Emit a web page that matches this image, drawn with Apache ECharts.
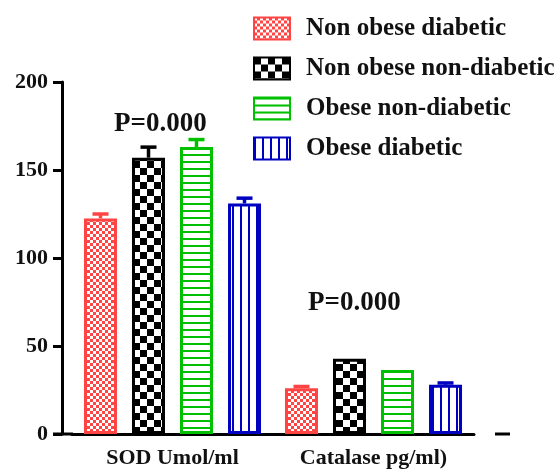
<!DOCTYPE html>
<html>
<head>
<meta charset="utf-8">
<script src="https://cdn.jsdelivr.net/npm/echarts@6/dist/echarts.min.js"></script>
<style>
  html, body { margin: 0; padding: 0; background: #fff; }
  #chart { width: 556px; height: 472px; }
</style>
</head>
<body>
<div id="chart"></div>
<script>
// categories and values
const categories = ['SOD Umol/ml', 'Catalase pg/ml)'];
const groupNames = ['Non obese diabetic', 'Non obese non-diabetic', 'Obese non-diabetic', 'Obese diabetic'];
const nonObeseDiabetic = [122.5, 26];
const nonObeseNonDiabetic = [157, 42.7];
const obeseNonDiabetic = [163, 36.4];
const obeseDiabetic = [131, 28];
// upper error (SEM) per bar
const errNonObeseDiabetic = [2.5, 1];
const errNonObeseNonDiabetic = [6, 0];
const errObeseNonDiabetic = [4.3, 0];
const errObeseDiabetic = [3, 1];
const yTicks = [0, 50, 100, 150, 200];
const pLabels = ['P=0.000', 'P=0.000'];

const FONT = 'Liberation Serif';
const colors = ['#ff4444', '#000000', '#00c000', '#0000c0'];

// fill patterns, like the prism hatches
function makePattern(kind, color) {
  const c = document.createElement('canvas');
  const ctx = c.getContext('2d');
  if (kind === 'fineCheck') {
    c.width = 6; c.height = 6;
    ctx.fillStyle = color; ctx.fillRect(0, 0, 6, 6);
    ctx.fillStyle = '#fff';
    ctx.fillRect(0, 0, 3, 3); ctx.fillRect(3, 3, 3, 3);
  } else if (kind === 'bigCheck') {
    c.width = 14; c.height = 14;
    ctx.fillStyle = '#fff'; ctx.fillRect(0, 0, 14, 14);
    ctx.fillStyle = color;
    ctx.fillRect(0, 0, 7, 7); ctx.fillRect(7, 7, 7, 7);
  } else if (kind === 'hLines') {
    c.width = 8; c.height = 7;
    ctx.fillStyle = '#fff'; ctx.fillRect(0, 0, 8, 7);
    ctx.fillStyle = color; ctx.fillRect(0, 0, 8, 2);
  } else {
    c.width = 8; c.height = 8;
    ctx.fillStyle = '#fff'; ctx.fillRect(0, 0, 8, 8);
    ctx.fillStyle = color; ctx.fillRect(0, 0, 2, 8);
  }
  return { image: c, repeat: 'repeat' };
}
const patterns = [
  makePattern('fineCheck', colors[0]),
  makePattern('bigCheck', colors[1]),
  makePattern('hLines', colors[2]),
  makePattern('vLines', colors[3])
];

const values = [nonObeseDiabetic, nonObeseNonDiabetic, obeseNonDiabetic, obeseDiabetic];
const errors = [errNonObeseDiabetic, errNonObeseNonDiabetic, errObeseNonDiabetic, errObeseDiabetic];

const BAR_W = 33;
const STEP = 48; // bar centre to bar centre

const series = [];
values.forEach((vals, i) => {
  series.push({
    name: groupNames[i],
    type: 'bar',
    barWidth: BAR_W,
    barGap: ((STEP - BAR_W) / BAR_W * 100).toFixed(1) + '%',
    data: vals,
    itemStyle: { color: patterns[i], borderColor: colors[i], borderWidth: 3 },
    z: 3
  });
});
// error bars (upper only)
values.forEach((vals, i) => {
  const offset = (i - 1.5) * STEP;
  series.push({
    name: 'err' + i,
    type: 'custom',
    z: 2,
    data: vals.map((v, k) => [k, v, errors[i][k]]),
    renderItem: function (params, api) {
      const e = api.value(2);
      if (!e) return null;
      const base = api.coord([api.value(0), api.value(1)]);
      const top = api.coord([api.value(0), api.value(1) + e]);
      const x = base[0] + offset;
      const st = { stroke: colors[i], lineWidth: 3.5 };
      return {
        type: 'group',
        children: [
          { type: 'line', shape: { x1: x, y1: base[1], x2: x, y2: top[1] }, style: st },
          { type: 'line', shape: { x1: x - 8, y1: top[1], x2: x + 8, y2: top[1] }, style: st }
        ]
      };
    }
  });
});

const chart = echarts.init(document.getElementById('chart'));
chart.setOption({
  animation: false,
  backgroundColor: '#fff',
  grid: { left: 72, right: 82, top: 82, bottom: 38 },
  legend: {
    data: groupNames,
    orient: 'vertical',
    left: 248,
    top: 11,
    itemWidth: 36,
    itemHeight: 22,
    itemGap: 15,
    icon: 'rect',
    textStyle: {
      fontFamily: FONT, fontWeight: 'bold', fontSize: 25, color: '#111',
      padding: [0, 0, 0, 11], lineHeight: 22
    }
  },
  xAxis: {
    type: 'category',
    data: categories,
    axisLine: { lineStyle: { color: '#000', width: 3 } },
    axisTick: { alignWithLabel: true, length: 10, lineStyle: { color: '#000', width: 3 } },
    axisLabel: { fontFamily: FONT, fontWeight: 'bold', fontSize: 22, color: '#111', margin: 13 }
  },
  yAxis: {
    type: 'value',
    min: yTicks[0],
    max: yTicks[yTicks.length - 1],
    interval: 50,
    offset: 10,
    splitLine: { show: false },
    axisLine: { show: true, lineStyle: { color: '#000', width: 3 } },
    axisTick: { show: true, length: 9, lineStyle: { color: '#000', width: 3 } },
    axisLabel: { fontFamily: FONT, fontWeight: 'bold', fontSize: 22, color: '#111', margin: 14 }
  },
  graphic: [
    // x axis runs a little past the y axis, plus the stray dash on the right
    { type: 'line', shape: { x1: 53, y1: 434, x2: 73, y2: 434 }, style: { stroke: '#000', lineWidth: 3 } },
    { type: 'line', shape: { x1: 495, y1: 434, x2: 510, y2: 434 }, style: { stroke: '#000', lineWidth: 3 } },
    { type: 'text', left: 114, top: 111, style: { text: pLabels[0], font: 'bold 27px ' + FONT, fill: '#111' } },
    { type: 'text', left: 308, top: 290, style: { text: pLabels[1], font: 'bold 27px ' + FONT, fill: '#111' } }
  ],
  series: series
});
</script>
</body>
</html>
